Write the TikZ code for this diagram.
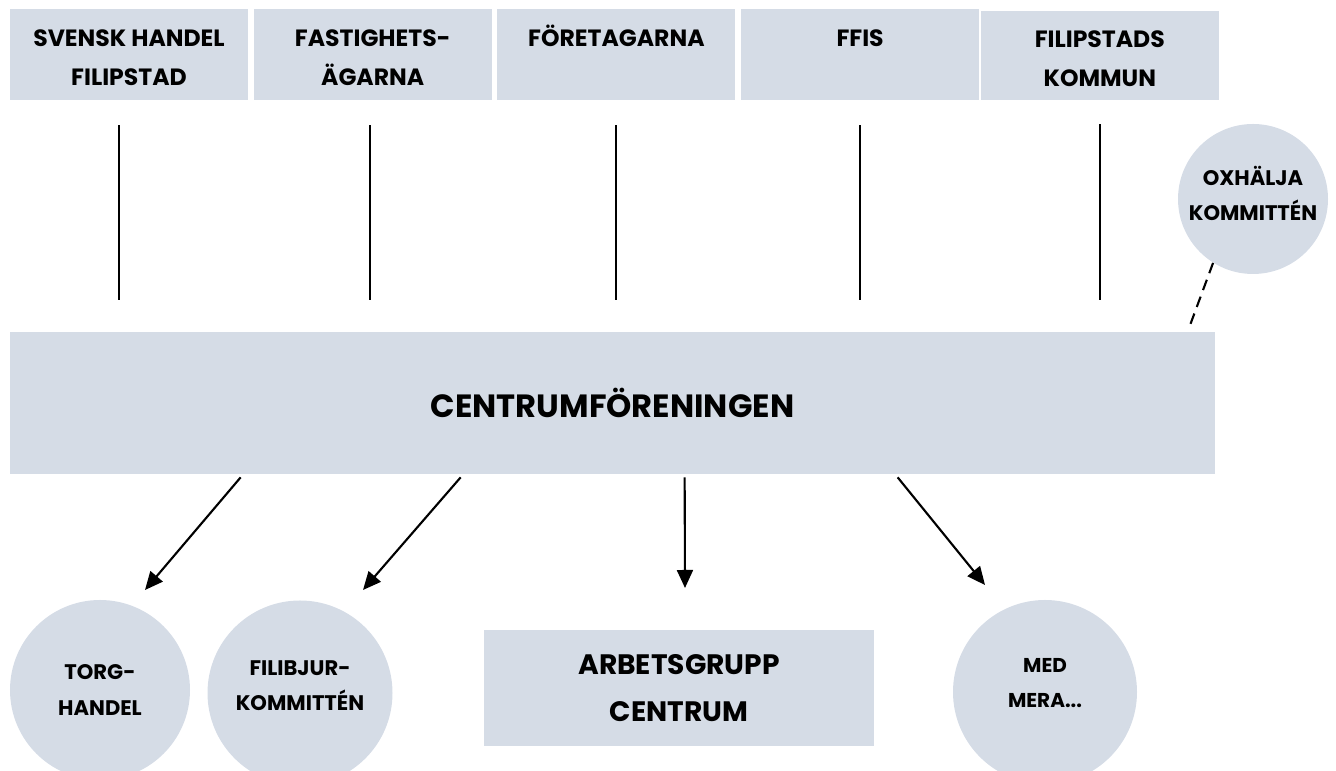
\documentclass[tikz,border=0pt]{standalone}
\usepackage{fontspec}
\setmainfont{Poppins}
\usetikzlibrary{positioning,arrows.meta}
\definecolor{boxgray}{HTML}{D5DCE6}
\tikzset{
  topbox/.style={fill=boxgray, minimum width=4.76cm, minimum height=1.82cm, align=center, inner sep=0pt,
    font=\bfseries\fontsize{13.4}{22}\selectfont},
  group/.style={circle, fill=boxgray, inner sep=0pt, align=center, font=\bfseries\fontsize{12}{20}\selectfont},
  link/.style={line width=1.2pt},
  arr/.style={line width=1.2pt, -{Triangle[length=0.36cm,width=0.32cm]}}
}
\begin{document}
\begin{tikzpicture}[node distance=0.1cm]
	\useasboundingbox (0,0) rectangle (26.72,15.42);
	% members
	\node(svensk) [topbox] at (2.58,14.33) {\mbox{}\\[-9pt]SVENSK HANDEL\\FILIPSTAD};
	\node(fastighet) [topbox, right=of svensk] {\mbox{}\\[-9pt]FASTIGHETS-\\ÄGARNA};
	\node(foretagarna) [topbox, right=of fastighet] {\mbox{}\\[-9pt]FÖRETAGARNA\\\phantom{A}};
	\node(ffis) [topbox, right=of foretagarna] {\mbox{}\\[-9pt]FFIS\\\phantom{A}};
	\node(kommun) [topbox, right=of ffis, minimum height=1.78cm, xshift=-0.08cm, yshift=-0.02cm] {\mbox{}\\[-9pt]FILIPSTADS\\KOMMUN};

	\node(centrum) [fill=boxgray, minimum width=24.1cm, minimum height=2.84cm, inner sep=0pt,
		font=\bfseries\fontsize{18.3}{20}\selectfont] at (12.25,7.36) {CENTRUMFÖRENINGEN};
	\node(oxhalja) [group, minimum size=3.0cm] at (25.06,11.44) {OXHÄLJA\\KOMMITTÉN\\[-14pt]\mbox{}};

	% groups
	\node(torg) [group, minimum size=3.6cm] at (2.0,1.62) {TORG-\\HANDEL};
	\node(filibjur) [group, minimum size=3.7cm] at (6.0,1.56) {FILIBJUR-\\KOMMITTÉN\\[-12pt]\mbox{}};
	\node(arbetsgrupp) [fill=boxgray, minimum width=7.8cm, minimum height=2.32cm, align=center,
		font=\bfseries\fontsize{16}{27}\selectfont] at (13.58,1.66) {ARBETSGRUPP\\CENTRUM};
	\node(medmera) [group, minimum size=3.68cm, font=\bfseries\fontsize{11.4}{20}\selectfont] at (20.9,1.58) {MED\\MERA...\\[-10pt]\mbox{}};

	\draw[link, shorten <=0.5cm, shorten >=0.64cm] ([xshift=-0.2cm]svensk.south) -- ([xshift=-0.2cm]svensk.south |- centrum.north);
	\draw[link, shorten <=0.5cm, shorten >=0.64cm] ([xshift=-0.06cm]fastighet.south) -- ([xshift=-0.06cm]fastighet.south |- centrum.north);
	\draw[link, shorten <=0.5cm, shorten >=0.64cm] (foretagarna.south) -- (foretagarna.south |- centrum.north);
	\draw[link, shorten <=0.5cm, shorten >=0.64cm] (ffis.south) -- (ffis.south |- centrum.north);
	\draw[link, shorten <=0.48cm, shorten >=0.64cm] (kommun.south) -- (kommun.south |- centrum.north);

	\coordinate(oxend) at (23.78,8.86);
	\draw[link, dash pattern=on 0.22cm off 0.14cm] (oxhalja.238) -- (oxend);

	\coordinate(torgin) at (2.9,3.62);
	\coordinate(filibjurin) at (7.26,3.62);
	\coordinate(arbetsin) at (13.7,3.66);
	\coordinate(medin) at (19.7,3.72);
	\draw[arr] ([xshift=4.62cm, yshift=-0.06cm]centrum.south west) -- (torgin);
	\draw[arr] ([xshift=9.02cm, yshift=-0.06cm]centrum.south west) -- (filibjurin);
	\draw[arr] ([xshift=13.5cm, yshift=-0.06cm]centrum.south west) -- (arbetsin);
	\draw[arr] ([xshift=17.76cm, yshift=-0.06cm]centrum.south west) -- (medin);
\end{tikzpicture}
\end{document}
